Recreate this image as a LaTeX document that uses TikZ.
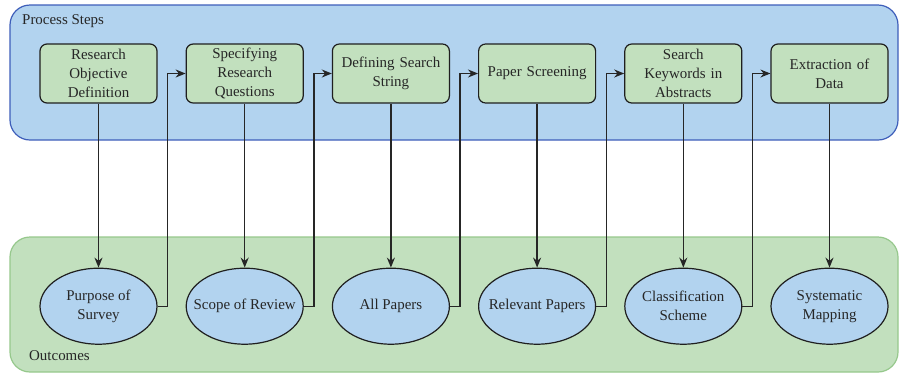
\documentclass[tikz,border=0pt]{standalone}
\usepackage{fontspec}
\setmainfont{Liberation Serif}
\usetikzlibrary{shapes, arrows.meta}
\usetikzlibrary{positioning}
\pgfdeclarelayer{background1}
\pgfsetlayers{background1,main}

\tikzset{
	stepbox/.style={draw=black!88, fill=stepgreen, rounded corners=7bp, line width=1.2bp,
		minimum width=117bp, minimum height=59bp, text width=110bp, align=center,
		inner sep=0pt, text=black!85, font=\fontsize{15}{19}\selectfont},
	outcome/.style={ellipse, draw=black!88, fill=outblue, line width=1.2bp,
		minimum width=117bp, minimum height=76bp, inner xsep=-20bp, inner ysep=0pt,
		align=center, text=black!85, font=\fontsize{15}{19}\selectfont},
	link/.style={draw=black!85, line width=1.4bp, -{Stealth[length=10bp,width=8bp]}},
	arealabel/.style={anchor=west, inner sep=0pt, text=black!85, font=\fontsize{15}{19}\selectfont}
}

\begin{document}
\begin{tikzpicture}[x=1bp,y=-1bp]

	\definecolor{stepgreen}{RGB}{194,224,190}
	\definecolor{outblue}{RGB}{178,211,239}
	\definecolor{frameblue}{RGB}{62,94,186}
	\definecolor{framegreen}{RGB}{150,200,140}

	\useasboundingbox (0,0) rectangle (901,374);

	% process steps
	\node(pro1) [stepbox] at (98.5,73.5) {Research\\Objective\\Definition};
	\node(pro2) [stepbox, right=28bp of pro1] {Specifying\\Research\\Questions};
	\node(pro3) [stepbox, right=28bp of pro2] {Defining Search\\String};
	\node(pro4) [stepbox, right=28bp of pro3] {Paper Screening};
	\node(pro5) [stepbox, right=28bp of pro4] {Search\\Keywords in\\Abstracts};
	\node(pro6) [stepbox, right=28bp of pro5] {Extraction of\\Data};

	% outcomes
	\node(out1) [outcome, below=164bp of pro1] {Purpose of\\Survey};
	\node(out2) [outcome, below=164bp of pro2] {Scope of Review};
	\node(out3) [outcome, below=164bp of pro3] {All Papers};
	\node(out4) [outcome, below=164bp of pro4] {Relevant Papers};
	\node(out5) [outcome, below=164bp of pro5] {Classification\\Scheme};
	\node(out6) [outcome, below=164bp of pro6] {Systematic\\Mapping};

	\node(steplabel) [arealabel] at (22,21) {Process Steps};
	\node(outlabel) [arealabel] at (29,356) {Outcomes};

	\foreach \i in {1,...,6}
		\draw[link] (pro\i) -- (out\i);
	\foreach \i/\j in {1/2,2/3,3/4,4/5,5/6}
		\draw[link] (out\i.east) -- ++(10bp,0) |- (pro\j.west);

	\begin{pgfonlayer}{background1}
		\draw [draw=frameblue, fill=outblue, rounded corners=20bp, line width=1.2bp] (10,5) rectangle (898,140);
		\draw [draw=framegreen, fill=stepgreen, rounded corners=20bp, line width=1.2bp] (10,237) rectangle (898,372);
	\end{pgfonlayer}

\end{tikzpicture}
\end{document}
